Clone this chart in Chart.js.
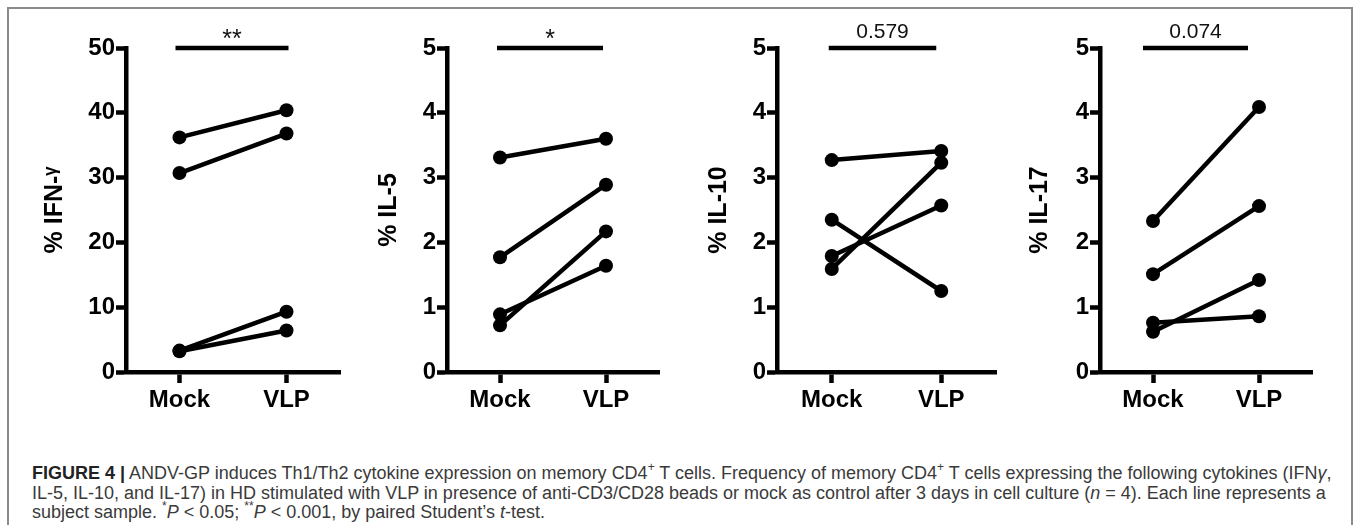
<!DOCTYPE html>
<html>
<head>
<meta charset="utf-8">
<script src="https://cdn.jsdelivr.net/npm/chart.js@4"></script>
<style>
  html, body { margin: 0; padding: 0; background: #fff; }
  body { width: 1360px; height: 525px; position: relative; overflow: hidden; }
  .frame { position: absolute; left: 7px; top: 7px; width: 1346px; height: 540px; border: 2px solid #8a8a8a; box-sizing: border-box; }
  .panel { position: absolute; top: 0; }
  .caption { position: absolute; left: 32px; font-family: "Liberation Sans", Arial, sans-serif; font-size: 18px; line-height: 20px; color: #3a3a3a; white-space: nowrap; }
  .caption b { color: #222; }
  .caption sup { font-size: 12px; line-height: 0; position: relative; top: -1px; }
</style>
</head>
<body>
<div class="frame"></div>
<div id="panels"></div>
<div class="caption" style="top:463px"><b>FIGURE 4 |</b> ANDV-GP induces Th1/Th2 cytokine expression on memory CD4<sup>+</sup> T cells. Frequency of memory CD4<sup>+</sup> T cells expressing the following cytokines (IFN<i>γ</i>,</div>
<div class="caption" style="top:483px">IL-5, IL-10, and IL-17) in HD stimulated with VLP in presence of anti-CD3/CD28 beads or mock as control after 3 days in cell culture (<i>n</i> = 4). Each line represents a</div>
<div class="caption" style="top:502px">subject sample. <sup>*</sup><i>P</i> &lt; 0.05; <sup>**</sup><i>P</i> &lt; 0.001, by paired Student’s <i>t</i>-test.</div>

<script>
// data (paired mock / VLP per subject)
const categories = ["Mock", "VLP"];

const ifnMock = [36.2, 30.7, 3.3, 3.2];
const ifnVlp = [40.4, 36.8, 9.3, 6.4];

const il5Mock = [3.31, 1.77, 0.72, 0.89];
const il5Vlp = [3.60, 2.89, 2.17, 1.64];

const il10Mock = [3.27, 2.35, 1.79, 1.59];
const il10Vlp = [3.41, 1.25, 2.57, 3.23];

const il17Mock = [2.33, 1.51, 0.62, 0.76];
const il17Vlp = [4.09, 2.56, 1.42, 0.86];

const yTitles = ["% IFN-ᵞ", "% IL-5", "% IL-10", "% IL-17"];
const yMax = [50, 5, 5, 5];
const yStep = [10, 1, 1, 1];
const pLabels = ["**", "*", "0.579", "0.074"];

const mockSets = [ifnMock, il5Mock, il10Mock, il17Mock];
const vlpSets = [ifnVlp, il5Vlp, il10Vlp, il17Vlp];

// layout (pixels)
const axisX = [126, 447, 777, 1100];
const plotW = [217, 215, 222, 215];
const titleOff = [71, 58, 58, 60];
const barShift = [[-4, 2], [-3, -3], [-3, -5], [-10, -11]];
const AXIS_W = 100;
const FONT = "'Liberation Sans', Arial, sans-serif";

const sigBar = {
    id: "sigBar",
    afterDraw(chart, args, opts) {
        const { ctx, scales } = chart;
        const y = scales.y.getPixelForValue(opts.top);
        const x1 = scales.x.getPixelForValue(0) + opts.shift[0];
        const x2 = scales.x.getPixelForValue(1) + opts.shift[1];
        ctx.save();
        ctx.strokeStyle = "#000";
        ctx.lineWidth = 4.5;
        ctx.beginPath();
        ctx.moveTo(x1, y);
        ctx.lineTo(x2, y);
        ctx.stroke();
        const stars = opts.label.startsWith("*");
        ctx.fillStyle = "#111";
        ctx.textAlign = "center";
        ctx.textBaseline = "alphabetic";
        ctx.font = (stars ? "25px " : "21px ") + FONT;
        ctx.fillText(opts.label, (x1 + x2) / 2, stars ? y - 1 : y - 10);
        ctx.restore();
    },
};

const holder = document.getElementById("panels");

for (let i = 0; i < 4; i++) {
    const w = AXIS_W + plotW[i] + 4;
    const div = document.createElement("div");
    div.className = "panel";
    div.style.left = (axisX[i] - AXIS_W) + "px";
    div.style.width = w + "px";
    div.style.height = "420px";
    const canvas = document.createElement("canvas");
    canvas.width = w;
    canvas.height = 420;
    div.appendChild(canvas);
    holder.appendChild(div);

    const datasets = mockSets[i].map((m, k) => ({
        data: [m, vlpSets[i][k]],
        borderColor: "#000",
        backgroundColor: "#000",
        borderWidth: 4.5,
        pointRadius: 7,
        pointBorderWidth: 0,
        pointBackgroundColor: "#000",
        tension: 0,
    }));

    new Chart(canvas.getContext("2d"), {
        type: "line",
        data: { labels: categories, datasets: datasets },
        options: {
            responsive: false,
            animation: false,
            layout: { padding: { top: 48, right: 4, bottom: 0, left: 0 } },
            plugins: {
                legend: { display: false },
                tooltip: { enabled: false },
                sigBar: { top: yMax[i], shift: barShift[i], label: pLabels[i] },
            },
            scales: {
                x: {
                    type: "category",
                    offset: true,
                    afterFit: (s) => { s.height = 48; },
                    border: { display: true, color: "#000", width: 4.5 },
                    grid: { drawOnChartArea: false, drawTicks: true, tickLength: 11, tickWidth: 4.5, tickColor: "#000", offset: false },
                    ticks: { color: "#000", padding: 3, font: { family: FONT, size: 24, weight: "bold" } },
                },
                y: {
                    min: 0,
                    max: yMax[i],
                    afterFit: (s) => { s.width = AXIS_W; },
                    border: { display: true, color: "#000", width: 4.5 },
                    grid: { drawOnChartArea: false, drawTicks: true, tickLength: 10, tickWidth: 4.5, tickColor: "#000" },
                    ticks: { stepSize: yStep[i], color: "#000", padding: 1, font: { family: FONT, size: 24, weight: "bold" } },
                    title: {
                        display: true,
                        text: yTitles[i],
                        color: "#000",
                        font: { family: FONT, size: 25, weight: "bold", lineHeight: 1.2 },
                        padding: { top: AXIS_W - titleOff[i] - 15, bottom: 0 },
                    },
                },
            },
        },
        plugins: [sigBar],
    });
}
</script>
</body>
</html>
